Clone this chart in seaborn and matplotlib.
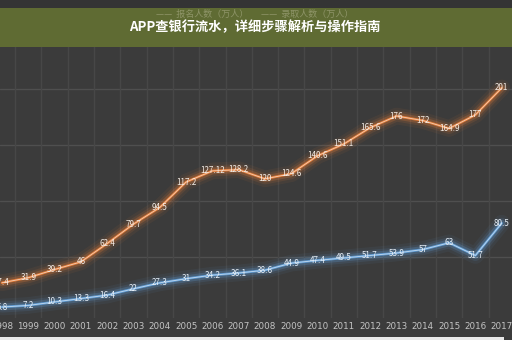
import matplotlib
matplotlib.use("Agg")
import matplotlib.pyplot as plt
import seaborn as sns
import pandas as pd
from matplotlib.patches import Rectangle

years = list(range(1998, 2018))
applicants = [27.4, 31.9, 39.2, 46, 62.4, 79.7, 94.5, 117.2, 127.12, 128.2,
              120, 124.6, 140.6, 151.1, 165.6, 176, 172, 164.9, 177, 201]
admitted = [5.8, 7.2, 10.3, 13.3, 16.4, 22, 27.3, 31, 34.2, 36.1,
            38.6, 44.9, 47.4, 49.5, 51.7, 53.9, 57, 63, 51.7, 80.5]
series_names = ["报名人数（万人）", "录取人数（万人）"]
title = "APP查银行流水，详细步骤解析与操作指南"

sns.set_theme(style="dark")
plt.rcParams['font.family'] = ['Noto Sans CJK SC', 'DejaVu Sans']

bg = "#3b3b3b"
orange = "#e37a36"
blue = "#5f9bd3"

fig = plt.figure(figsize=(5.12, 3.40), dpi=100, facecolor=bg)
ax = fig.add_axes([0, 22/340, 1, 318/340])
ax.set_facecolor(bg)

df = pd.DataFrame({"year": years, "app": applicants, "adm": admitted})

for col, c in [("app", orange), ("adm", blue)]:
    for lw, a in [(12, 0.07), (8, 0.12), (5, 0.25)]:
        sns.lineplot(data=df, x="year", y=col, ax=ax, color=c, linewidth=lw, alpha=a)
    sns.lineplot(data=df, x="year", y=col, ax=ax, color=c, linewidth=1.8)
    sns.lineplot(data=df, x="year", y=col, ax=ax, color="#f7e4d4" if col == "app" else "#dbe9f6",
                 linewidth=0.6, alpha=0.8)

for x, v in zip(years, applicants):
    ax.text(x, v, f"{v:g}", ha="center", va="center", fontsize=5.8, color="#f2ece6")
for x, v in zip(years, admitted):
    ax.text(x, v, f"{v:g}", ha="center", va="center", fontsize=5.8, color="#e6eef6")

ax.set_xlim(1998 - 2/26.3, 1998 + 510/26.3)
ax.set_ylim(-4.0, 279.4)
ax.set_xticks(years)
ax.set_xticklabels([str(y) for y in years], fontsize=6.3, color="#c4c4c4", family="DejaVu Sans")
ax.tick_params(axis="x", pad=3, length=0)
ax.set_yticks([])
ax.set_xlabel("")
ax.set_ylabel("")
for y in [50, 100, 150, 200, 250]:
    ax.axhline(y, color="#4f4f4f", linewidth=1.0, zorder=0)
for x in years:
    ax.axvline(x + 0.5, color="#474747", linewidth=1.0, zorder=0)
for s in ax.spines.values():
    s.set_visible(False)

# top dark strip and green banner
fig.patches.append(Rectangle((0, 1 - 8/340), 1, 8/340, transform=fig.transFigure,
                             facecolor="#343434", edgecolor="none", zorder=5))
fig.patches.append(Rectangle((0, 1 - 47/340), 1, 39/340, transform=fig.transFigure,
                             facecolor="#5f6b33", edgecolor="none", zorder=5))
fig.patches.append(Rectangle((0, 0), 0.985, 3/340, transform=fig.transFigure,
                             facecolor="#e8e8e8", edgecolor="none", zorder=5))

fig.text(0.305, 1 - 14/340, "——  " + series_names[0], fontsize=6.5, color="#8e9468",
         ha="left", va="center", zorder=6)
fig.text(0.51, 1 - 14/340, "——  " + series_names[1], fontsize=6.5, color="#8e9468",
         ha="left", va="center", zorder=6)
fig.text(0.497, 1 - 27/340, title, fontsize=9.5, fontweight="bold", color="white",
         ha="center", va="center", zorder=7)

fig.savefig("out.png", dpi=100, facecolor=bg)
